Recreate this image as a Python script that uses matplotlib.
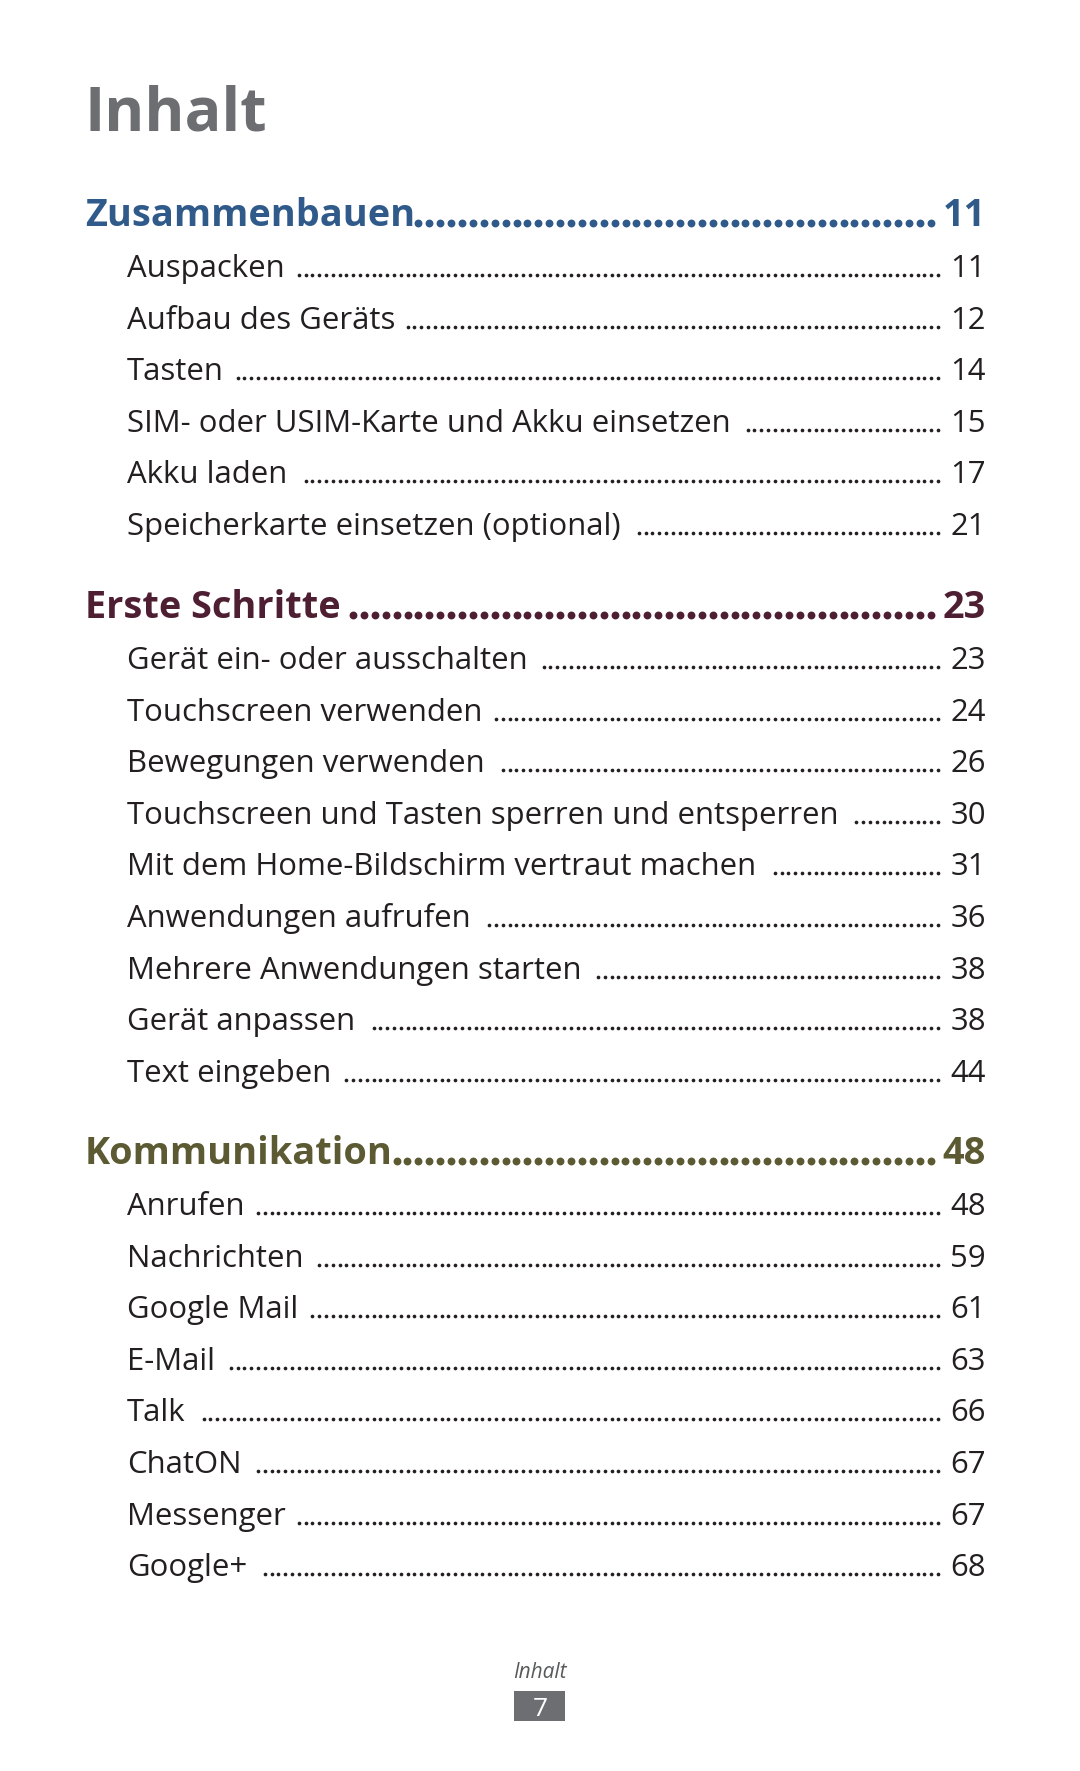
import numpy as np
import matplotlib
matplotlib.use("Agg")
import matplotlib.pyplot as plt
from matplotlib.patches import Rectangle

plt.rcParams['font.family'] = ['Open Sans', 'DejaVu Sans']

# Table of contents data
sections = ["Zusammenbauen", "Erste Schritte", "Kommunikation"]
section_pages = ["11", "23", "48"]
section_colors = ["#2f5a8a", "#4e1e32", "#5c5a32"]

items_1 = ["Auspacken", "Aufbau des Geräts", "Tasten",
           "SIM- oder USIM-Karte und Akku einsetzen", "Akku laden",
           "Speicherkarte einsetzen (optional)"]
pages_1 = ["11", "12", "14", "15", "17", "21"]

items_2 = ["Gerät ein- oder ausschalten", "Touchscreen verwenden",
           "Bewegungen verwenden", "Touchscreen und Tasten sperren und entsperren",
           "Mit dem Home-Bildschirm vertraut machen", "Anwendungen aufrufen",
           "Mehrere Anwendungen starten", "Gerät anpassen", "Text eingeben"]
pages_2 = ["23", "24", "26", "30", "31", "36", "38", "38", "44"]

items_3 = ["Anrufen", "Nachrichten", "Google Mail", "E-Mail", "Talk",
           "ChatON", "Messenger", "Google+"]
pages_3 = ["48", "59", "61", "63", "66", "67", "67", "68"]

all_items = [items_1, items_2, items_3]
all_pages = [pages_1, pages_2, pages_3]

W, H = 1080, 1771
fig = plt.figure(figsize=(W / 100, H / 100), dpi=100)
ax = fig.add_axes([0, 0, 1, 1])
ax.set_xlim(0, W)
ax.set_ylim(H, 0)
ax.axis('off')
renderer = fig.canvas.get_renderer()


def right_edge(t):
    bb = t.get_window_extent(renderer)
    return ax.transData.inverted().transform((bb.x1, bb.y0))[0]


def left_edge(t):
    bb = t.get_window_extent(renderer)
    return ax.transData.inverted().transform((bb.x0, bb.y0))[0]


def leader(x0, x1, y, step, size, color):
    xs = np.arange(x1, x0, -step)[::-1]
    ax.scatter(xs, np.full(len(xs), y), s=size, color=color, linewidths=0)


# title
ax.text(84, 130, "Inhalt", fontsize=44, fontweight='bold', color='#6d6e71',
        va='baseline', ha='left')

x_sec, x_item, x_num = 85, 127, 986
item_fs, sec_fs = 22.4, 27.3
item_col = '#231f20'
sec_y = [226, 618, 1164]
step_y = 51.6

for si, name in enumerate(sections):
    y = sec_y[si]
    col = section_colors[si]
    t = ax.text(x_sec, y, name, fontsize=sec_fs, fontweight='bold', color=col,
                va='baseline', ha='left')
    n = ax.text(x_num, y, section_pages[si], fontsize=sec_fs, fontweight='bold',
                color=col, va='baseline', ha='right')
    leader(right_edge(t) + 3, left_edge(n) - 12, y - 3, 10.9, 32, col)
    for k, (it, pg) in enumerate(zip(all_items[si], all_pages[si])):
        yy = y + 51 + k * step_y
        t = ax.text(x_item, yy, it, fontsize=item_fs, color=item_col,
                    va='baseline', ha='left')
        n = ax.text(x_num, yy, pg, fontsize=item_fs, color=item_col,
                    va='baseline', ha='right')
        leader(right_edge(t) + 12, 938, yy - 2, 6.8, 7, item_col)

# footer
ax.text(540, 1678, "Inhalt", fontsize=15, style='italic', color='#58595b',
        va='baseline', ha='center')
ax.add_patch(Rectangle((514, 1691), 51, 30, color='#6d6e71', lw=0))
ax.text(540, 1716, "7", fontsize=19, color='white', va='baseline', ha='center')

fig.savefig("out.png", dpi=100, facecolor='white')
